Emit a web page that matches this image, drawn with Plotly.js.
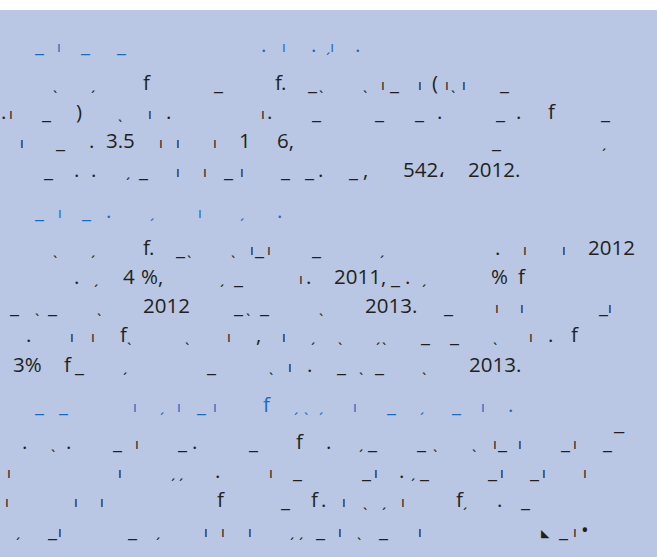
<!DOCTYPE html>
<html>
<head>
<meta charset="utf-8">
<script src="https://cdn.plot.ly/plotly-3.0.1.min.js"></script>
<style>
  html, body { margin: 0; padding: 0; background: #ffffff; }
  #chart { width: 657px; height: 557px; }
</style>
</head>
<body>
<div id="chart"></div>
<script>
// ---------------- DATA: text fragments of each printed row ----------------
// (the page is a text panel whose glyphs are largely missing; visible fragments kept)
const headingRows = [1, 6, 12];

const row01Text = ['_', 'ı', '_', '_', '.', 'ı', '.', 'ˏı', '.'];
const row02Text = ['ˎ', 'ˏ', 'f', '_', 'f', '.', '_', 'ˎ', 'ˎ', 'ı', '_', 'ı', '(', 'ı', 'ˎ', 'ı', '_'];
const row03Text = ['.', 'ı', '_', ')', 'ˎ', 'ı', '.', 'ı', '.', '_', '_', '_', '.', '_', '.', 'f', '_'];
const row04Text = ['ı', '_', '.', '3.5', 'ı', 'ı', 'ı', '1', '6,', '_', 'ˏ'];
const row05Text = ['_', '.', '.', 'ˏ', '_', 'ı', 'ı', '_', 'ı', '_', '_', '.', '_', ',', '542،', '2012.'];
const row06Text = ['_', 'ı', '_', '.', 'ˏ', 'ı', 'ˏ', '.'];
const row07Text = ['ˎ', 'ˏ', 'f', '.', '_', 'ˎ', 'ˎ', 'ı', '_', 'ı', '_', 'ˏ', '.', 'ı', 'ı', '2012'];
const row08Text = ['.', 'ˏ', '4', '%,', 'ˏ', '_', 'ı', '.', '2011,', '_', '.', 'ˏ', '%', 'f'];
const row09Text = ['_', 'ˎ', '_', 'ˎ', '2012', '_', 'ˎ', '_', 'ˎ', '2013.', '_', 'ı', 'ı', '_', 'ı'];
const row10Text = ['.', 'ı', 'ı', 'f', 'ˎ', 'ˎ', 'ı', ',', 'ı', 'ˏ', 'ˎ', 'ˏ', 'ˎ', '_', '_', 'ˎ', 'ı', '.', 'f'];
const row11Text = ['3%', 'f', '_', 'ˏ', '_', 'ˎ', 'ı', '.', '_', 'ˎ', '_', 'ˎ', '2013.'];
const row12Text = ['_', '_', 'ı', 'ˏ', 'ı', '_', 'ı', 'f', 'ˏ', 'ˎ', 'ˏ', 'ı', '_', 'ˏ', '_', 'ı', '.'];
const row13Text = ['.', 'ˎ', '.', '_', 'ı', '_', '.', '_', 'f', '.', 'ˏ', '_', '_', 'ˎ', 'ˎ', 'ı', '_', 'ı', '_', 'ı', '_', '¯'];
const row14Text = ['ı', 'ı', 'ˏ', 'ˏ', '.', 'ı', '_', '_', 'ı', '.', 'ˏ', '_', '_', 'ı', '_', 'ı', 'ı'];
const row15Text = ['ı', 'ı', 'ı', 'f', '_', 'f', '.', 'ı', 'ˎ', 'ˏ', 'ı', 'f', 'ˏ', '.', '_'];
const row16Text = ['ˏ', '_', 'ı', '_', 'ˏ', 'ı', 'ı', 'ı', 'ˏ', 'ˏ', '_', 'ı', 'ˎ', '_', 'ı', '◣', '_', 'ı', '•'];

// ---------------- LAYOUT (pixel positions of each row and fragment) ----------------
const W = 657, H = 557;
const rowBaselines = [52, 90, 119, 148, 177, 218, 255, 284, 313, 342, 372, 412, 449, 478, 507, 537];
const rowX = [
  [33, 56, 79, 115, 260, 281, 310, 325, 354],
  [52, 90, 142, 212, 274, 280, 306, 318, 362, 380, 388, 417, 431, 444, 450, 461, 498],
  [0, 8, 40, 75, 117, 147, 165, 260, 266, 310, 373, 413, 436, 494, 515, 547, 599],
  [19, 54, 88, 105, 158, 175, 212, 238, 276, 490, 601],
  [42, 73, 90, 125, 137, 175, 202, 222, 239, 279, 303, 317, 347, 362, 402, 467],
  [33, 57, 80, 105, 149, 197, 239, 276],
  [52, 90, 142, 148, 174, 186, 230, 249, 253, 266, 310, 379, 494, 522, 561, 587],
  [73, 93, 122, 140, 219, 232, 298, 305, 333, 389, 404, 421, 490, 517],
  [8, 34, 46, 96, 142, 232, 245, 258, 318, 364, 442, 494, 519, 597, 607],
  [25, 69, 90, 119, 126, 184, 226, 255, 281, 310, 337, 375, 381, 419, 448, 492, 528, 547, 570],
  [12, 63, 73, 122, 205, 268, 287, 306, 335, 358, 373, 421, 468],
  [33, 57, 132, 159, 176, 195, 212, 262, 293, 303, 318, 352, 385, 419, 450, 480, 507],
  [21, 50, 65, 111, 134, 176, 191, 247, 295, 325, 358, 366, 415, 432, 471, 492, 496, 517, 559, 572, 601, 612],
  [6, 117, 170, 178, 214, 268, 291, 360, 373, 398, 410, 418, 486, 499, 528, 541, 582],
  [4, 73, 99, 216, 279, 310, 320, 341, 362, 381, 400, 455, 462, 496, 519],
  [15, 46, 57, 126, 155, 203, 220, 247, 289, 298, 314, 337, 356, 377, 417, 540, 557, 572, 580]
];

const rowTexts = [row01Text, row02Text, row03Text, row04Text, row05Text, row06Text, row07Text, row08Text,
                  row09Text, row10Text, row11Text, row12Text, row13Text, row14Text, row15Text, row16Text];

const bodyColor = '#231f20';
const headColor = '#1a6cbf';
const bgBlue = '#b9c7e4';
const fontFamily = '"Open Sans", "Noto Sans", "DejaVu Sans", sans-serif';
const mainSize = 20.5;
const tickSize = 15;
const markSize = 11;
const descent = 7; // px from baseline to bottom of annotation box

const annotations = [];
rowTexts.forEach((tokens, r) => {
  const isHead = headingRows.indexOf(r + 1) >= 0;
  const base = rowBaselines[r];
  tokens.forEach((t, i) => {
    const x = rowX[r][i];
    if (x === undefined) return;
    const small = (t === 'ı' || t === 'ˎ' || t === 'ˏ' || t === 'ˏı');
    let size = small ? tickSize : mainSize;
    if (t === '◣') size = markSize;
    const d = descent * size / mainSize;
    annotations.push({
      xref: 'paper', yref: 'paper',
      x: x / W, y: 1 - (base + d) / H,
      xanchor: 'left', yanchor: 'bottom',
      text: t, showarrow: false,
      borderpad: 0,
      font: { family: fontFamily, size: size, color: isHead ? headColor : bodyColor }
    });
  });
});

const layout = {
  width: W, height: H,
  margin: { l: 0, r: 0, t: 0, b: 0, pad: 0 },
  paper_bgcolor: bgBlue,
  plot_bgcolor: 'rgba(0,0,0,0)',
  xaxis: { visible: false, range: [0, 1], fixedrange: true },
  yaxis: { visible: false, range: [0, 1], fixedrange: true },
  showlegend: false,
  shapes: [{
    type: 'rect', xref: 'paper', yref: 'paper',
    x0: 0, x1: 1, y0: 1 - 10 / H, y1: 1,
    fillcolor: '#ffffff', line: { width: 0 }, layer: 'below'
  }],
  annotations: annotations
};

Plotly.newPlot('chart', [], layout, { staticPlot: true, displayModeBar: false });
</script>
</body>
</html>
